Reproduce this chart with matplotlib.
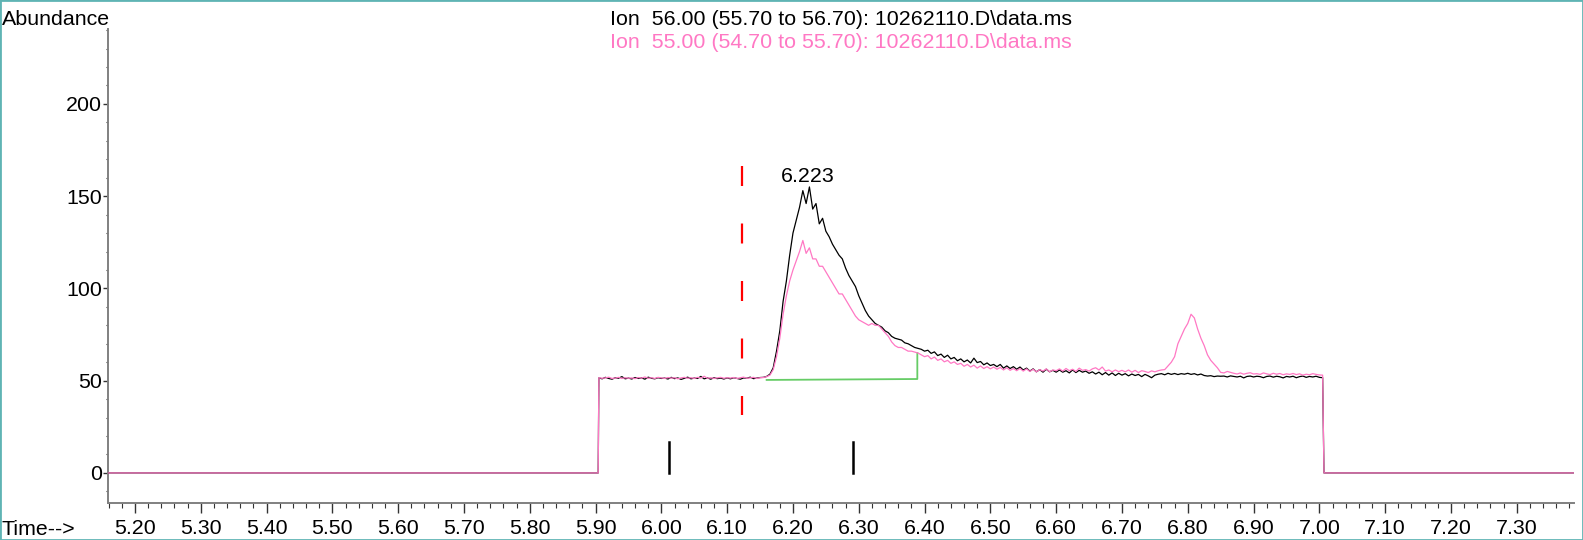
import numpy as np
import matplotlib
matplotlib.use("Agg")
import matplotlib.pyplot as plt
from matplotlib.ticker import MultipleLocator, FormatStrFormatter
from matplotlib.patches import Rectangle

plt.rcParams['font.family'] = ['Liberation Sans', 'DejaVu Sans']
plt.rcParams['lines.scale_dashes'] = False

# ---- chromatogram data -------------------------------------------------
scan_start = 5.905      # min, first scan of the acquisition window
scan_step = 0.005       # min between scans
window_start = 5.904    # signal switches on
window_end = 7.007      # signal switches off
x_range = (5.159, 7.387)
y_range = (-16.3, 240.6)

# Ion 56.00 abundance, one value per scan
ion56 = [
    51.5, 51.0, 51.8, 51.2, 50.8, 51.6, 51.3, 52.2, 51.0, 51.4,
    50.9, 51.7, 51.2, 51.5, 50.8, 51.9, 51.3, 51.0, 51.6, 51.2,
    51.4, 50.9, 51.8, 51.1, 51.5, 50.7, 51.3, 51.9, 51.0, 51.4,
    51.2, 52.3, 51.0, 51.5, 50.8, 51.6, 51.1, 51.4, 50.9, 51.5,
    51.0, 51.6, 51.2, 50.8, 51.5, 51.3, 51.9, 51.1, 51.4, 51.7,
    51.8, 52.3, 53.5, 57.0, 66.0, 77.0, 93.0, 104.0, 118.0, 130.0,
    137.0, 144.0, 153.0, 146.0, 155.0, 143.0, 146.0, 135.0, 138.0, 131.0,
    128.0, 124.0, 121.0, 118.0, 116.0, 111.0, 107.0, 104.0, 101.0, 96.0,
    92.0, 88.0, 85.0, 83.0, 81.0, 80.0, 79.0, 77.0, 76.0, 74.0,
    73.0, 72.5, 72.0, 70.5, 70.0, 69.0, 68.0, 67.5, 67.0, 66.0,
    66.5, 64.8, 65.6, 63.6, 64.4, 62.6, 63.8, 61.8, 62.6, 60.8,
    61.8, 60.2, 61.2, 59.6, 62.2, 59.8, 60.4, 58.6, 59.6, 58.2,
    58.8, 57.6, 58.8, 56.8, 58.0, 56.6, 57.6, 56.2, 57.4, 55.8,
    56.8, 55.2, 56.4, 54.8, 56.0, 54.6, 56.2, 54.8, 55.6, 54.6,
    55.8, 54.6, 55.4, 54.2, 55.8, 54.4, 55.6, 54.6, 55.2, 54.0,
    54.8, 53.6, 54.6, 53.2, 54.4, 53.0, 54.2, 52.8, 54.0, 53.0,
    53.8, 52.6, 53.6, 52.8, 53.4, 52.2, 53.4, 52.6, 51.6, 53.0,
    53.5, 53.8, 53.2, 54.0, 53.4, 53.9, 53.3, 53.8, 53.5, 54.0,
    53.4, 53.8, 53.1, 53.6, 52.8, 52.5, 52.7, 52.2, 52.5, 52.4,
    52.5, 52.0, 52.6, 52.3, 52.0, 52.4, 51.5, 52.3, 52.5, 52.0,
    52.4, 52.2, 51.6, 52.3, 52.5, 51.9, 52.4, 52.1, 51.5, 52.3,
    52.0, 52.4, 51.6, 52.2, 52.5, 51.8, 52.3, 52.0, 52.4, 51.8,
    51.6,
]

# Ion 55.00 abundance, one value per scan
ion55 = [
    51.6, 51.3, 51.5, 51.9, 51.2, 51.4, 51.8, 51.2, 51.6, 51.3,
    51.5, 51.1, 51.7, 51.4, 52.0, 51.3, 51.6, 51.2, 51.8, 51.5,
    51.2, 51.7, 51.4, 51.6, 51.0, 51.5, 51.8, 51.3, 51.6, 51.2,
    51.8, 51.4, 52.4, 51.3, 51.6, 51.2, 51.5, 51.8, 51.3, 51.6,
    51.4, 51.7, 51.2, 51.6, 51.9, 51.3, 51.5, 51.8, 51.2, 51.6,
    51.7, 52.2, 53.0, 56.0, 63.0, 73.0, 86.0, 96.0, 104.0, 110.0,
    115.0, 120.0, 126.0, 119.0, 122.0, 116.0, 116.0, 112.0, 112.0, 109.0,
    106.0, 103.0, 100.0, 97.0, 97.0, 94.0, 91.0, 88.0, 85.0, 83.0,
    82.0, 81.0, 80.0, 81.0, 80.0, 80.0, 78.0, 76.0, 74.0, 71.0,
    69.0, 68.0, 68.0, 67.0, 66.0, 66.0, 65.5, 65.0, 64.0, 63.0,
    63.6, 61.8, 62.8, 61.0, 61.8, 60.2, 61.0, 59.4, 60.2, 58.8,
    59.4, 57.8, 58.8, 57.4, 58.4, 56.8, 58.0, 56.6, 57.6, 56.4,
    57.4, 56.2, 57.2, 55.8, 57.0, 55.6, 56.6, 55.4, 56.6, 55.2,
    56.4, 55.0, 56.2, 54.8, 56.0, 55.2, 56.4, 54.8, 55.8, 55.4,
    56.4, 55.2, 56.6, 55.4, 56.2, 55.0, 56.8, 55.6, 56.0, 55.2,
    56.4, 57.0, 55.8, 57.4, 55.2, 55.8, 54.8, 55.8, 54.9, 55.6,
    54.8, 55.8, 54.6, 55.6, 54.4, 55.4, 55.0, 54.4, 55.3, 54.8,
    55.4, 55.8, 56.0, 58.0, 60.0, 63.0, 70.0, 74.0, 78.0, 81.0,
    86.0, 84.0, 78.0, 73.0, 69.0, 64.0, 61.0, 59.0, 57.0, 54.5,
    54.2, 55.0, 54.5, 54.0, 53.6, 54.2, 53.5, 54.0, 54.3, 53.6,
    53.8, 53.4, 54.2, 53.7, 53.3, 54.0, 53.5, 53.9, 53.2, 53.7,
    53.4, 53.9, 53.3, 53.7, 53.0, 53.5, 53.2, 53.8, 53.4, 53.1,
    53.0,
]

# Integration events
peak_rt = 6.223
peak_label_y = 157.7
event_marks = [6.011, 6.291]
event_mark_span = (0.0, 16.8)
marker_rt = 6.122
marker_span = (31.4, 166.4)
baseline_start = (6.160, 50.4)
baseline_end = (6.389, 50.9)
baseline_drop_top = 65.0

title_56 = "Ion  56.00 (55.70 to 56.70): 10262110.D\\data.ms"
title_55 = "Ion  55.00 (54.70 to 55.70): 10262110.D\\data.ms"

PINK = "#ff78c4"
FS = 15.4

# ---- build full traces (zero outside acquisition window) ---------------
scan_times = np.round(scan_start + scan_step * np.arange(len(ion56)), 3)
t_full = np.concatenate([[x_range[0], window_start], scan_times,
                         [window_end, x_range[1]]])
y56 = np.concatenate([[0, 0], ion56, [0, 0]])
y55 = np.concatenate([[0, 0], ion55, [0, 0]])

fig = plt.figure(figsize=(15.83, 5.40), dpi=100)
ax = fig.add_axes([108 / 1583, 37 / 540, (1574 - 108) / 1583, (511 - 37) / 540])

ax.plot(t_full, y56, color="black", lw=0.9, zorder=3)
ax.plot(t_full, y55, color=PINK, lw=0.9, zorder=4)

# integration baseline
ax.plot([baseline_start[0], baseline_end[0], baseline_end[0]],
        [baseline_start[1], baseline_end[1], baseline_drop_top],
        color="#66cc66", lw=1.3, zorder=2)

# retention-time marker
red, = ax.plot([marker_rt, marker_rt], [marker_span[1], marker_span[0]],
               color="#ff0000", lw=1.6, zorder=2)
red.set_dashes([14.4, 27.0])

# event ticks
for t in event_marks:
    ax.plot([t, t], event_mark_span, color="black", lw=1.8, zorder=2)

ax.text(peak_rt, peak_label_y, f"{peak_rt:.3f}", ha="center", va="baseline",
        fontsize=FS, color="black")

ax.set_xlim(*x_range)
ax.set_ylim(*y_range)

ax.xaxis.set_major_locator(MultipleLocator(0.1))
ax.xaxis.set_minor_locator(MultipleLocator(0.02))
ax.xaxis.set_major_formatter(FormatStrFormatter("%.2f"))
ax.yaxis.set_major_locator(MultipleLocator(50))
ax.yaxis.set_minor_locator(MultipleLocator(10))

for s in ("top", "right"):
    ax.spines[s].set_visible(False)
for s in ("left", "bottom"):
    ax.spines[s].set_color("#808080")
    ax.spines[s].set_linewidth(1.4)

ax.tick_params(axis="x", which="major", direction="out", length=7.2, width=1.0,
               color="#333333", labelsize=FS, pad=4)
ax.tick_params(axis="x", which="minor", direction="out", length=3.6, width=0.8,
               color="#333333")
ax.tick_params(axis="y", which="major", direction="out", length=3.6, width=1.0,
               color="#333333", labelsize=FS, pad=0.5)
ax.tick_params(axis="y", which="minor", direction="out", length=1.5, width=0.8,
               color="#333333")

fig.text(2 / 1583, 1 - 25 / 540, "Abundance", fontsize=FS, ha="left", va="baseline")
fig.text(2 / 1583, 1 - 535 / 540, "Time-->", fontsize=FS, ha="left", va="baseline")
fig.text(610 / 1583, 1 - 25 / 540, title_56, fontsize=FS, ha="left",
         va="baseline", color="black")
fig.text(610 / 1583, 1 - 48 / 540, title_55, fontsize=FS, ha="left",
         va="baseline", color=PINK)

fig.add_artist(Rectangle((0, 0), 1, 1, transform=fig.transFigure, fill=False,
                         edgecolor="#5fb4b4", linewidth=2.0))

fig.savefig("out.png", dpi=100)
